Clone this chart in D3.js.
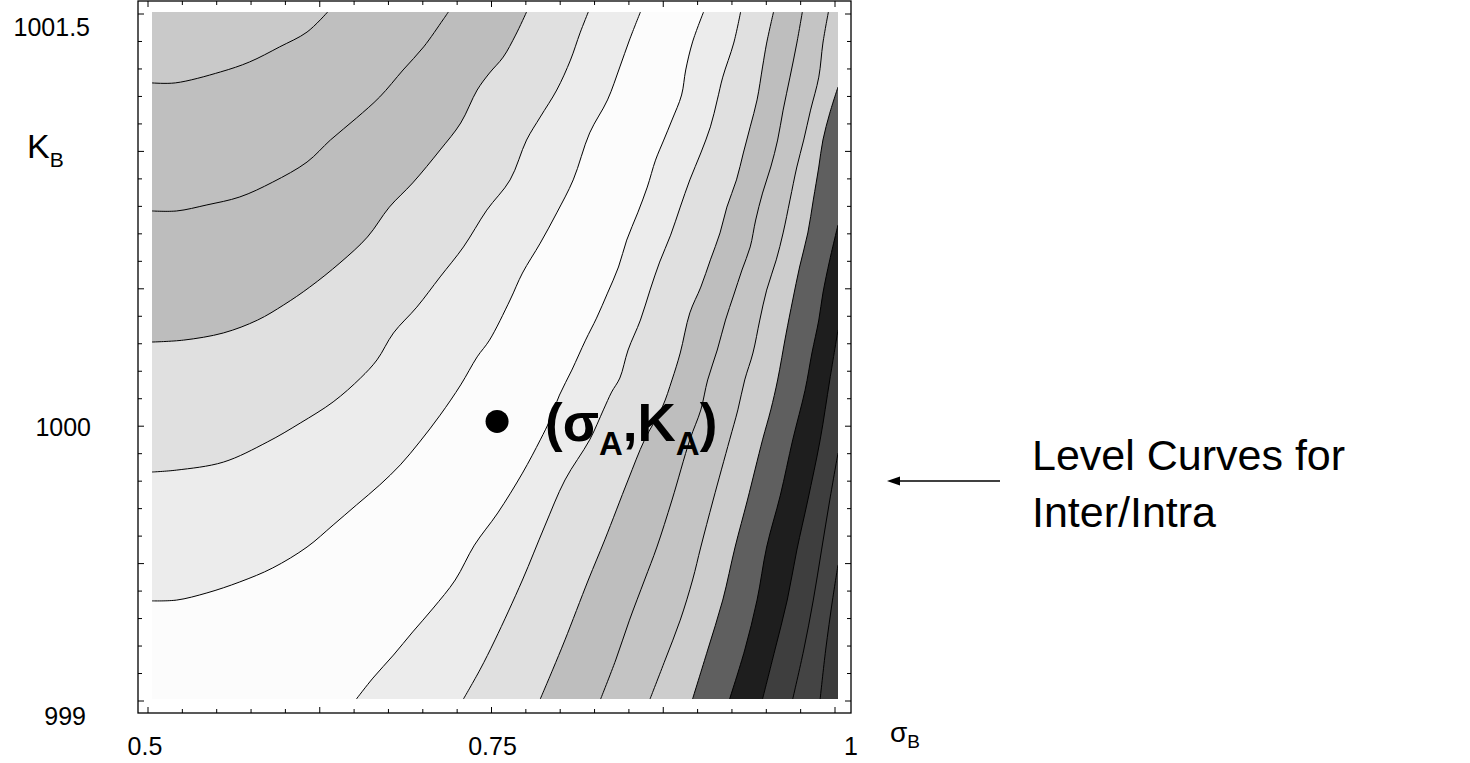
<!DOCTYPE html>
<html>
<head>
<meta charset="utf-8">
<script src="https://cdn.jsdelivr.net/npm/d3@7"></script>
<style>
  html, body { margin: 0; padding: 0; background: #ffffff; }
  svg { display: block; }
  text { font-family: "Liberation Sans", Arial, Helvetica, sans-serif; fill: #000; }
</style>
</head>
<body>
<svg id="chart" width="1470" height="763"></svg>
<script>
// ---------------- DATA ----------------
const sigmaRange = [0.5, 1];          // σB axis
const kRange = [999, 1001.5];         // KB axis
const xTickLabels = ["0.5", "0.75", "1"];
const xTickLabelValues = [0.5, 0.75, 1];
const yTickLabels = ["999", "1000", "1001.5"];
const yTickLabelValues = [999, 1000, 1001.5];

// The reference point (σA, KA)
const pointA = [0.7515, 1000.01];

// Level curves on the upper-left side (left edge -> top edge), [σB, KB]
const curveA = [[0.5,1001.242],[0.517,1001.242],[0.550,1001.282],[0.571,1001.318],[0.593,1001.373],[0.613,1001.427],[0.628,1001.5]];
const curveB = [[0.5,1000.776],[0.518,1000.776],[0.540,1000.798],[0.564,1000.827],[0.588,1000.881],[0.613,1000.954],[0.630,1001.034],[0.649,1001.114],[0.666,1001.191],[0.683,1001.289],[0.698,1001.373],[0.712,1001.471],[0.716,1001.5]];
const curveC = [[0.5,1000.299],[0.523,1000.306],[0.552,1000.332],[0.577,1000.379],[0.596,1000.434],[0.615,1000.499],[0.637,1000.587],[0.657,1000.681],[0.673,1000.790],[0.690,1000.878],[0.710,1000.998],[0.725,1001.096],[0.737,1001.216],[0.746,1001.278],[0.756,1001.336],[0.765,1001.416],[0.773,1001.5]];
const curveD = [[0.5,999.826],[0.518,999.833],[0.552,999.862],[0.584,999.935],[0.608,1000.004],[0.632,1000.081],[0.652,1000.168],[0.664,1000.234],[0.676,1000.332],[0.693,1000.426],[0.710,1000.536],[0.727,1000.645],[0.744,1000.779],[0.761,1000.889],[0.773,1001.034],[0.783,1001.118],[0.795,1001.216],[0.805,1001.325],[0.812,1001.424],[0.818,1001.5]];
const curveE = [[0.5,999.357],[0.518,999.360],[0.540,999.386],[0.564,999.426],[0.588,999.477],[0.613,999.553],[0.632,999.633],[0.649,999.706],[0.666,999.779],[0.681,999.852],[0.695,999.935],[0.710,1000.033],[0.725,1000.143],[0.737,1000.245],[0.746,1000.306],[0.761,1000.452],[0.770,1000.550],[0.783,1000.659],[0.795,1000.769],[0.807,1000.889],[0.819,1001.060],[0.832,1001.180],[0.841,1001.300],[0.848,1001.398],[0.856,1001.5]];

// Level curves on the right side (bottom edge -> top edge), [σB, KB]
const curveF = [[0.649,999],[0.661,999.076],[0.676,999.160],[0.690,999.244],[0.705,999.331],[0.721,999.433],[0.735,999.560],[0.752,999.677],[0.770,999.822],[0.783,999.943],[0.790,1000.015],[0.797,1000.106],[0.806,1000.197],[0.816,1000.306],[0.824,1000.386],[0.832,1000.477],[0.840,1000.572],[0.846,1000.670],[0.854,1000.769],[0.861,1000.863],[0.867,1000.961],[0.873,1001.034],[0.879,1001.107],[0.886,1001.198],[0.889,1001.289],[0.894,1001.391],[0.902,1001.5]];
const curveG = [[0.727,999],[0.739,999.106],[0.750,999.215],[0.770,999.433],[0.786,999.626],[0.801,999.797],[0.819,999.943],[0.829,1000.052],[0.835,1000.117],[0.841,1000.168],[0.847,1000.270],[0.856,1000.379],[0.863,1000.488],[0.870,1000.590],[0.878,1000.688],[0.885,1000.790],[0.892,1000.889],[0.900,1000.987],[0.907,1001.082],[0.912,1001.180],[0.916,1001.263],[0.924,1001.387],[0.929,1001.5]];
const curveH = [[0.783,999],[0.792,999.106],[0.801,999.215],[0.818,999.433],[0.830,999.579],[0.847,999.797],[0.859,999.943],[0.872,1000.063],[0.879,1000.161],[0.885,1000.259],[0.892,1000.405],[0.900,1000.499],[0.907,1000.598],[0.914,1000.696],[0.919,1000.790],[0.926,1000.889],[0.931,1000.987],[0.936,1001.082],[0.941,1001.180],[0.945,1001.300],[0.948,1001.387],[0.953,1001.5]];
const curveI = [[0.827,999],[0.838,999.142],[0.848,999.287],[0.859,999.433],[0.868,999.553],[0.879,999.724],[0.892,999.943],[0.900,1000.052],[0.905,1000.161],[0.912,1000.270],[0.918,1000.379],[0.924,1000.470],[0.930,1000.561],[0.936,1000.645],[0.940,1000.743],[0.945,1000.841],[0.951,1000.936],[0.956,1001.034],[0.960,1001.143],[0.965,1001.263],[0.970,1001.387],[0.974,1001.5]];
const curveJ = [[0.863,999],[0.874,999.142],[0.885,999.287],[0.894,999.433],[0.900,999.553],[0.909,999.724],[0.921,999.943],[0.927,1000.052],[0.932,1000.161],[0.938,1000.259],[0.943,1000.379],[0.948,1000.488],[0.955,1000.598],[0.960,1000.696],[0.965,1000.816],[0.970,1000.936],[0.975,1001.034],[0.980,1001.143],[0.986,1001.263],[0.989,1001.387],[0.993,1001.5]];

// Level curves on the far right (right edge -> bottom edge), [σB, KB]
const curveK = [[1.0,1001.227],[0.994,1001.132],[0.989,1001.034],[0.986,1000.936],[0.982,1000.816],[0.978,1000.696],[0.972,1000.572],[0.967,1000.452],[0.962,1000.325],[0.956,1000.161],[0.951,1000.052],[0.945,999.943],[0.934,999.724],[0.925,999.553],[0.916,999.360],[0.905,999.178],[0.894,999]];
const curveL = [[1.0,1000.725],[0.994,1000.598],[0.989,1000.477],[0.986,1000.379],[0.981,1000.259],[0.976,1000.124],[0.967,999.943],[0.958,999.742],[0.948,999.553],[0.941,999.360],[0.932,999.178],[0.921,999]];
const curveM = [[1.0,1000.343],[0.994,1000.161],[0.987,999.943],[0.978,999.724],[0.970,999.542],[0.963,999.360],[0.954,999.178],[0.945,999]];
const curveN = [[1.0,999.895],[0.994,999.724],[0.988,999.542],[0.982,999.360],[0.975,999.178],[0.967,999]];
const curveO = [[1.0,999.488],[0.996,999.360],[0.991,999.178],[0.987,999]];

// Band shading (gray levels) for the regions cut off by each curve
const valleyShade = "#fcfcfc";
const leftShades  = ["#ececec", "#e0e0e0", "#bdbdbd", "#bfbfbf", "#c9c9c9"];          // beyond E, D, C, B, A
const rightShades = ["#ececec", "#e0e0e0", "#bebebe", "#c4c4c4", "#cdcdcd"];          // beyond F, G, H, I, J
const edgeShades  = ["#5f5f5f", "#1e1e1e", "#3e3e3e", "#444444", "#3b3b3b"];          // beyond K, L, M, N, O

// ---------------- LAYOUT ----------------
const svg = d3.select("#chart");
const frame = { left: 138, right: 851, top: 1, bottom: 713 };

// scale for the shaded field
const fx = d3.scaleLinear().domain(sigmaRange).range([152, 838]);
const fy = d3.scaleLinear().domain(kRange).range([699, 12]);
// scale for the frame ticks
const ax = d3.scaleLinear().domain(sigmaRange).range([148, 835]);
const ay = d3.scaleLinear().domain(kRange).range([701, 14]);

const defs = svg.append("defs");
defs.append("clipPath").attr("id", "plotClip").append("rect")
  .attr("x", fx(sigmaRange[0])).attr("y", fy(kRange[1]))
  .attr("width", fx(sigmaRange[1]) - fx(sigmaRange[0]))
  .attr("height", fy(kRange[0]) - fy(kRange[1]));

const plot = svg.append("g").attr("clip-path", "url(#plotClip)");

const lineGen = d3.line().x(d => fx(d[0])).y(d => fy(d[1])).curve(d3.curveCatmullRom.alpha(0.5));
function region(points, corners) {
  return lineGen(points) + corners.map(c => "L" + fx(c[0]) + "," + fy(c[1])).join("") + "Z";
}
const TL = [sigmaRange[0], kRange[1]], TR = [sigmaRange[1], kRange[1]], BR = [sigmaRange[1], kRange[0]];

// valley
plot.append("rect")
  .attr("x", fx(sigmaRange[0])).attr("y", fy(kRange[1]))
  .attr("width", fx(sigmaRange[1]) - fx(sigmaRange[0]))
  .attr("height", fy(kRange[0]) - fy(kRange[1]))
  .attr("fill", valleyShade);

const leftCurves = [curveE, curveD, curveC, curveB, curveA];
const rightCurves = [curveF, curveG, curveH, curveI, curveJ];
const edgeCurves = [curveK, curveL, curveM, curveN, curveO];

leftCurves.forEach((c, i) => plot.append("path").attr("d", region(c, [TL])).attr("fill", leftShades[i]));
rightCurves.forEach((c, i) => plot.append("path").attr("d", region(c, [TR, BR])).attr("fill", rightShades[i]));
edgeCurves.forEach((c, i) => plot.append("path").attr("d", region(c, [BR])).attr("fill", edgeShades[i]));

// contour lines
[...leftCurves, ...rightCurves, ...edgeCurves].forEach(c => {
  plot.append("path").attr("d", lineGen(c)).attr("fill", "none")
    .attr("stroke", "#000").attr("stroke-width", 1);
});

// ---------------- FRAME & TICKS ----------------
svg.append("rect")
  .attr("x", frame.left).attr("y", frame.top)
  .attr("width", frame.right - frame.left).attr("height", frame.bottom - frame.top)
  .attr("fill", "none").attr("stroke", "#000").attr("stroke-width", 1.3);

const xTicks = d3.range(21).map(i => sigmaRange[0] + i * 0.025);
const yTicks = d3.range(26).map(i => kRange[0] + i * 0.1);
const tickG = svg.append("g").attr("stroke", "#000").attr("stroke-width", 1);
xTicks.forEach((v, i) => {
  const len = i % 5 === 0 ? 6 : 4;
  tickG.append("line").attr("x1", ax(v)).attr("x2", ax(v)).attr("y1", frame.bottom).attr("y2", frame.bottom - len);
  tickG.append("line").attr("x1", ax(v)).attr("x2", ax(v)).attr("y1", frame.top).attr("y2", frame.top + len);
});
yTicks.forEach((v, i) => {
  const len = i % 5 === 0 ? 6 : 4;
  tickG.append("line").attr("y1", ay(v)).attr("y2", ay(v)).attr("x1", frame.left).attr("x2", frame.left + len);
  tickG.append("line").attr("y1", ay(v)).attr("y2", ay(v)).attr("x1", frame.right).attr("x2", frame.right - len);
});

// tick labels
const xLabelDx = [-3, 1, 16];
xTickLabels.forEach((t, i) => {
  svg.append("text").attr("x", ax(xTickLabelValues[i]) + xLabelDx[i]).attr("y", 755)
    .attr("text-anchor", "middle").attr("font-size", 25).text(t);
});
const yLabelPos = [{ x: 86, dy: 24 }, { x: 91, dy: 10 }, { x: 90, dy: 22 }];
yTickLabels.forEach((t, i) => {
  svg.append("text").attr("x", yLabelPos[i].x).attr("y", ay(yTickLabelValues[i]) + yLabelPos[i].dy)
    .attr("text-anchor", "end").attr("font-size", 25).text(t);
});

// axis titles
const kb = svg.append("text").attr("x", 27).attr("y", 158).attr("font-size", 34);
kb.append("tspan").text("K");
kb.append("tspan").attr("font-size", 21).attr("dy", 9).text("B");

const sb = svg.append("text").attr("x", 890).attr("y", 742).attr("font-size", 28);
sb.append("tspan").text("σ");
sb.append("tspan").attr("font-size", 19).attr("dy", 6).text("B");

// ---------------- POINT (σA, KA) ----------------
const px = fx(pointA[0]), py = fy(pointA[1]);
svg.append("circle").attr("cx", px).attr("cy", py).attr("r", 11.5).attr("fill", "#000");
const lab = svg.append("text").attr("x", px + 48).attr("y", py + 20)
  .attr("font-size", 53).attr("font-weight", "bold");
lab.append("tspan").text("(σ");
lab.append("tspan").attr("font-size", 33).attr("dy", 14).text("A");
lab.append("tspan").attr("dy", -14).text(",K");
lab.append("tspan").attr("font-size", 33).attr("dy", 14).text("A");
lab.append("tspan").attr("dy", -14).text(")");

// ---------------- ANNOTATION ----------------
svg.append("line").attr("x1", 1000).attr("x2", 898).attr("y1", 481).attr("y2", 481)
  .attr("stroke", "#000").attr("stroke-width", 1.5);
svg.append("path").attr("d", "M887,481 L900,476.5 L900,485.5 Z").attr("fill", "#000");
svg.append("text").attr("x", 1032).attr("y", 470).attr("font-size", 43).text("Level Curves for");
svg.append("text").attr("x", 1032).attr("y", 527).attr("font-size", 43).text("Inter/Intra");
</script>
</body>
</html>
